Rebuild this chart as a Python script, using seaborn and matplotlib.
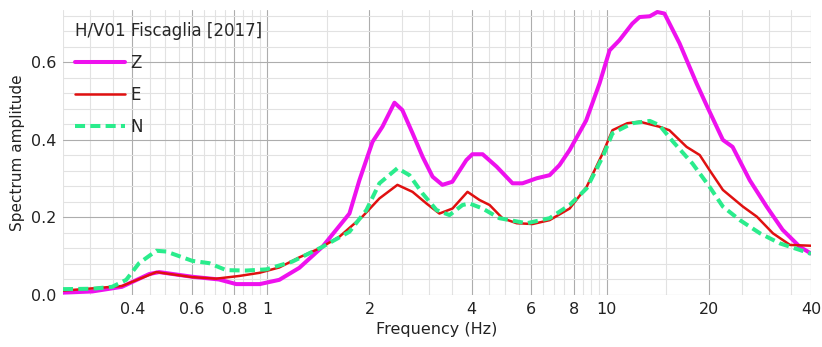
#!usr/bin/env python3

#%% Libraries
import numpy as np
import pandas as pd
import matplotlib
matplotlib.use('Agg')
import matplotlib.pyplot as plt
from matplotlib.ticker import FixedLocator, FixedFormatter, MultipleLocator
import seaborn as sns

#%% Data
z_freq = [0.25, 0.305, 0.373, 0.449, 0.48, 0.60, 0.72, 0.81, 0.95, 1.085, 1.243,
          1.453, 1.746, 1.868, 2.042, 2.184, 2.37, 2.50, 2.68, 2.87, 3.07, 3.28,
          3.51, 3.86, 4.02, 4.31, 4.74, 5.28, 5.65, 6.22, 6.79, 7.26, 7.78, 8.7,
          9.53, 10.2, 10.9, 11.9, 12.5, 13.4, 14.1, 14.8, 16.4, 18.4, 19.8, 22.0,
          23.5, 26.4, 29.6, 33.0, 37.1, 40.0]
z_amp = [0.006, 0.009, 0.021, 0.054, 0.059, 0.047, 0.040, 0.028, 0.028, 0.039, 0.070,
         0.124, 0.210, 0.296, 0.395, 0.434, 0.496, 0.477, 0.417, 0.356, 0.305, 0.284,
         0.292, 0.348, 0.363, 0.363, 0.331, 0.288, 0.288, 0.301, 0.309, 0.335, 0.374, 0.450,
         0.546, 0.631, 0.657, 0.700, 0.717, 0.719, 0.730, 0.726, 0.649, 0.546, 0.485, 0.400,
         0.382, 0.296, 0.228, 0.168, 0.124, 0.107]

e_freq = [0.25, 0.373, 0.471, 0.60, 0.707, 0.827, 0.947, 1.085, 1.243, 1.423, 1.63,
          1.906, 2.14, 2.418, 2.679, 2.944, 3.215, 3.514, 3.89, 4.22, 4.52, 4.93,
          5.43, 6.05, 6.79, 7.78, 8.73, 9.73, 10.4, 11.5, 12.5, 14.3, 15.3, 17.2,
          18.8, 20.1, 22.0, 25.2, 27.7, 30.9, 34.7, 40.0]
e_amp = [0.011, 0.023, 0.059, 0.046, 0.042, 0.049, 0.057, 0.071, 0.097, 0.120, 0.150,
         0.202, 0.249, 0.284, 0.266, 0.236, 0.210, 0.223, 0.266, 0.245, 0.232, 0.198,
         0.185, 0.183, 0.193, 0.223, 0.279, 0.365, 0.425, 0.443, 0.447, 0.434, 0.425, 0.382,
         0.361, 0.322, 0.271, 0.228, 0.202, 0.159, 0.129, 0.127]

n_freq = [0.25, 0.305, 0.349, 0.384, 0.419, 0.471, 0.504, 0.601, 0.674, 0.757, 0.867,
          0.993, 1.185, 1.453, 1.746, 1.959, 2.14, 2.418, 2.624, 2.866, 3.153, 3.443,
          3.759, 3.945, 4.31, 4.83, 5.81, 6.79, 7.78, 8.73, 9.73, 10.4, 11.9, 13.4,
          14.3, 15.7, 17.9, 20.1, 22.0, 24.7, 28.3, 32.4, 37.1, 40.0]
n_amp = [0.015, 0.016, 0.021, 0.039, 0.082, 0.114, 0.112, 0.088, 0.082, 0.064, 0.063,
         0.066, 0.086, 0.124, 0.163, 0.219, 0.288, 0.327, 0.309, 0.262, 0.219, 0.206,
         0.232, 0.236, 0.223, 0.198, 0.185, 0.198, 0.232, 0.275, 0.356, 0.417, 0.443, 0.449,
         0.438, 0.395, 0.339, 0.279, 0.228, 0.193, 0.159, 0.133, 0.116, 0.106]

x_ticks = [0.4, 0.6, 0.8, 1, 2, 4, 6, 8, 10, 20, 40]
x_labels = ['0.4', '0.6', '0.8', '1', '2', '4', '6', '8', '10', '20', '40']

#%% Plot
sns.set_style('white')
plt.rcParams['font.family'] = ['DejaVu Sans']

fig = plt.figure(figsize=(8.22, 3.47), dpi=100)
ax = fig.add_axes([0.0766, 0.150, 0.91, 0.821])

sns.lineplot(x=z_freq, y=z_amp, ax=ax, color='#ee11ee', lw=2.9, label='Z')
sns.lineplot(x=e_freq, y=e_amp, ax=ax, color='#e01010', lw=1.8, label='E')
sns.lineplot(x=n_freq, y=n_amp, ax=ax, color='#2aec8c', lw=2.9,
             linestyle=(0, (2.5, 1.3)), label='N')

ax.set_xscale('log')
ax.set_xlim(0.25, 40)
ax.set_ylim(0, 0.735)

# minor grid: steps of 0.05 / 0.5 / 5 in each decade
minor = []
for dec in [0.1, 1, 10]:
    for m in np.arange(1.5, 10, 0.5):
        minor.append(m * dec)
ax.xaxis.set_major_locator(FixedLocator(x_ticks))
ax.xaxis.set_major_formatter(FixedFormatter(x_labels))
ax.xaxis.set_minor_locator(FixedLocator(minor))
ax.xaxis.set_minor_formatter(FixedFormatter([''] * len(minor)))
ax.yaxis.set_major_locator(MultipleLocator(0.2))
ax.yaxis.set_minor_locator(MultipleLocator(0.04))
ax.yaxis.set_major_formatter(matplotlib.ticker.FormatStrFormatter('%.1f'))

ax.grid(which='major', color='#adadad', lw=0.8)
ax.grid(which='minor', color='#e2e2e2', lw=0.8)
ax.set_axisbelow(True)
for s in ax.spines.values():
    s.set_visible(False)
ax.tick_params(which='both', length=0, labelsize=11.5, colors='#222222', pad=5)

ax.set_xlabel('Frequency (Hz)', fontsize=11.5, color='#222222', labelpad=4)
ax.set_ylabel('Spectrum amplitude', fontsize=11, color='#222222', labelpad=4)

leg = ax.legend(title='H/V01 Fiscaglia [2017]', loc='upper left', frameon=False,
                fontsize=12, title_fontsize=12, handlelength=3.0, handletextpad=0.35,
                labelspacing=0.85, alignment='left', borderaxespad=0.3)

fig.savefig('out.png', dpi=100)
